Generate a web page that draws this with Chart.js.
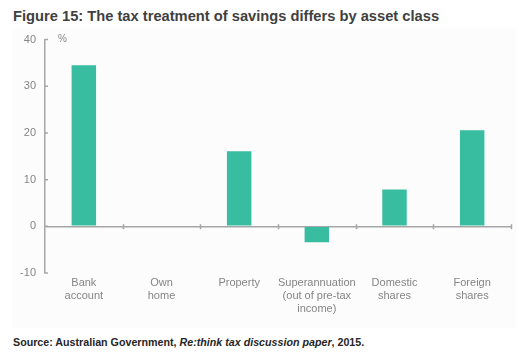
<!DOCTYPE html>
<html>
<head>
<meta charset="utf-8">
<script src="https://cdn.jsdelivr.net/npm/chart.js@4"></script>
<style>
  body { margin: 0; width: 519px; height: 360px; background: #fff; position: relative; font-family: "Liberation Sans", Arial, sans-serif; overflow: hidden; }
  #title { position: absolute; left: 13px; top: 8px; font-weight: bold; font-size: 14.7px; color: #404040; }
  #panel { position: absolute; left: 12px; top: 28px; width: 505px; height: 300px; background: #fcfcfc; }
  #graficoAhorro { position: absolute; left: 0; top: -4px; }
  #source { position: absolute; left: 13px; top: 336px; font-weight: bold; font-size: 10.7px; color: #262626; }
</style>
</head>
<body>
<div id="title">Figure 15: The tax treatment of savings differs by asset class</div>
<div id="panel"><canvas id="graficoAhorro" width="505" height="304"></canvas></div>
<div id="source">Source: Australian Government, <i>Re:think tax discussion paper</i>, 2015.</div>
<script>
const categorias = [
  ["Bank", "account"],
  ["Own", "home"],
  ["Property"],
  ["Superannuation", "(out of pre-tax", "income)"],
  ["Domestic", "shares"],
  ["Foreign", "shares"]
];
const valores = [34.5, 0, 16.1, -3.4, 7.9, 20.6];
const yMin = -10;
const yMax = 40;
const yPaso = 10;

const gris = "#a6a6a6";
const textoGris = "#858585";

// "%" arriba del eje y, marcas del eje en cero y marcas internas del eje y
const detalles = {
  id: "detalles",
  afterDraw(chart) {
    const y = chart.scales.y;
    const x = chart.scales.x;
    const ctx = chart.ctx;
    const y0 = y.getPixelForValue(0);
    const ancho = x.getPixelForValue(1) - x.getPixelForValue(0);
    ctx.save();
    ctx.strokeStyle = gris;
    ctx.lineWidth = 1.5;
    ctx.beginPath();
    for (let i = 0; i < categorias.length; i++) {
      const px = Math.round(x.getPixelForValue(i) + ancho / 2) + 0.5;
      ctx.moveTo(px, y0 - 2);
      ctx.lineTo(px, y0 + 3);
    }
    y.ticks.forEach(t => {
      const py = y.getPixelForValue(t.value);
      ctx.moveTo(y.right, py);
      ctx.lineTo(y.right + 3, py);
    });
    ctx.stroke();
    ctx.font = "10px 'Liberation Sans', Arial";
    ctx.fillStyle = textoGris;
    ctx.textBaseline = "middle";
    ctx.fillText("%", y.right + 13, y.getPixelForValue(yMax));
    ctx.restore();
  }
};

const ctxAhorro = document.getElementById("graficoAhorro").getContext("2d");
new Chart(ctxAhorro, {
  type: "bar",
  data: {
    labels: categorias,
    datasets: [{
      data: valores,
      backgroundColor: "#38bda1",
      borderWidth: 0,
      categoryPercentage: 1,
      barPercentage: 0.315
    }]
  },
  options: {
    responsive: false,
    animation: false,
    layout: { padding: { top: 0, right: 6, left: 0, bottom: 9 } },
    plugins: {
      legend: { display: false },
      tooltip: { enabled: false }
    },
    scales: {
      y: {
        min: yMin,
        max: yMax,
        afterFit: s => { s.width = 33; },
        ticks: {
          stepSize: yPaso,
          color: textoGris,
          padding: 9,
          font: { family: "'Liberation Sans', Arial", size: 11 }
        },
        grid: {
          drawTicks: false,
          color: ctx => ctx.tick && ctx.tick.value === 0 ? gris : "rgba(0,0,0,0)",
          lineWidth: 1.5
        },
        border: { color: gris, width: 1.5 }
      },
      x: {
        ticks: {
          color: textoGris,
          padding: 4,
          maxRotation: 0,
          autoSkip: false,
          font: { family: "'Liberation Sans', Arial", size: 11, lineHeight: 1.15 }
        },
        grid: { display: false, drawTicks: false },
        border: { display: false }
      }
    }
  },
  plugins: [detalles]
});
</script>
</body>
</html>
